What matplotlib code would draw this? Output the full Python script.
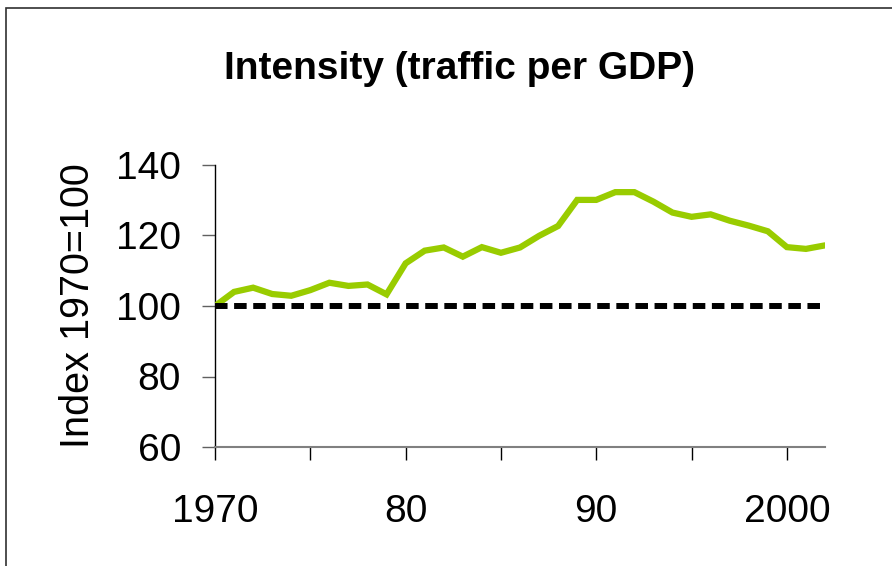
import matplotlib
matplotlib.use("Agg")
import matplotlib.pyplot as plt
from matplotlib.patches import Rectangle

plt.rcParams['font.family'] = ['Liberation Sans', 'DejaVu Sans']

years = list(range(1970, 2003))
intensity = [100.0, 104.0, 105.2, 103.4, 102.9, 104.5, 106.6, 105.7, 106.1, 103.3,
             112.1, 115.7, 116.6, 114.0, 116.7, 115.1, 116.6, 119.9, 122.7, 130.1,
             130.1, 132.3, 132.3, 129.6, 126.5, 125.3, 126.0, 124.2, 122.8, 121.2,
             116.7, 116.2, 117.2]
baseline_x = [1970, 2002]
baseline_y = [100, 100]
yticks = [60, 80, 100, 120, 140]
xticks = [1970, 1975, 1980, 1985, 1990, 1995, 2000]
xticklabels = ['1970', '', '80', '', '90', '', '2000']

W, H = 892, 566
fig = plt.figure(figsize=(W / 100, H / 100), dpi=100)
fig.patch.set_facecolor('white')

# outer frame (extends past right and bottom edge)
fig.add_artist(Rectangle((6 / W, -0.1), 1.2, 1.1 - 8 / H,
                         transform=fig.transFigure, fill=False,
                         edgecolor='#303030', linewidth=1.2))

ax = fig.add_axes([215 / W, 1 - 447 / H, (825 - 215) / W, (447 - 165) / H])
ax.plot(years, intensity, color='#99CC00', linewidth=4.5, solid_joinstyle='miter',
        solid_capstyle='round', zorder=3)
ax.plot(baseline_x, baseline_y, color='black', linewidth=4.3,
        linestyle=(0, (2.1, 1.1)), dash_capstyle='butt', zorder=4)

ax.set_xlim(1970, 2002)
ax.set_ylim(60, 140)
ax.set_yticks(yticks)
ax.set_yticklabels([str(v) for v in yticks])
ax.set_xticks(xticks)
ax.set_xticklabels(xticklabels)

for s in ['top', 'right']:
    ax.spines[s].set_visible(False)
ax.spines['left'].set_color('black')
ax.spines['left'].set_linewidth(1.0)
ax.spines['bottom'].set_color('#808080')
ax.spines['bottom'].set_linewidth(1.5)
ax.tick_params(axis='y', direction='out', length=9.5, width=1.0, color='#606060',
               labelsize=28, pad=15)
ax.tick_params(axis='x', direction='out', length=9.5, width=1.0, color='black',
               labelsize=28, pad=24)

ax.set_ylabel('Index 1970=100', fontsize=28.5, labelpad=14)
fig.text(459 / W, 1 - 79 / H, 'Intensity (traffic per GDP)', ha='center',
         va='baseline', fontsize=28, fontweight='bold')

fig.savefig('out.png', dpi=100)
